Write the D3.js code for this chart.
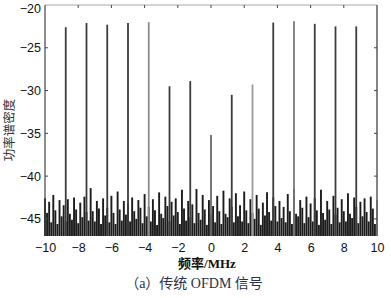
<!DOCTYPE html>
<html><head><meta charset="utf-8">
<script src="https://cdn.jsdelivr.net/npm/d3@7"></script>
<style>body{margin:0;background:#fff}svg{display:block}</style>
</head><body>
<svg id="c" width="391" height="298"></svg>
<script>
// ---- data ----
const spikeFreqs = [-8.75,-7.5,-6.25,-5,-3.75,-2.5,-1.25,0,1.25,2.5,3.75,5,6.25,7.5,8.75];
const spikePower = [-22.6,-22.1,-22.3,-22.1,-22.0,-29.5,-28.9,-35.2,-30.5,-29.3,-22.05,-21.9,-22.2,-22.5,-22.5];
const noisePower = [
-42.6,-44.3,-43.0,-45.4,-42.2,-44.0,-45.6,-42.8,-44.7,-43.4,-45.3,-42.7,-44.4,-45.1,-42.5,-43.9,
-45.5,-43.1,-44.8,-42.4,-44.2,-45.2,-41.4,-44.1,-45.3,-42.9,-43.8,-45.6,-42.6,-44.6,-43.7,-45.4,
-42.3,-44.3,-45.6,-41.8,-43.9,-45.2,-42.9,-44.5,-43.2,-45.3,-42.5,-44.1,-45.0,-42.8,-43.7,-45.5,
-42.1,-44.7,-43.6,-45.3,-42.7,-44.0,-45.7,-41.9,-44.4,-44.9,-42.4,-43.5,-45.3,-43.0,-44.6,-42.6,
-44.2,-45.6,-41.6,-43.8,-45.2,-42.9,-44.8,-43.3,-45.5,-41.5,-44.3,-45.1,-42.2,-43.9,-45.7,-42.8,
-44.5,-43.5,-45.4,-42.3,-44.1,-45.6,-41.7,-44.4,-44.8,-42.6,-43.6,-45.4,-42.0,-44.7,-43.4,-45.3,
-41.8,-44.0,-45.5,-42.7,-44.3,-45.0,-42.2,-43.8,-45.7,-43.1,-44.6,-41.9,-44.2,-45.2,-42.5,-43.5,
-45.3,-42.9,-44.9,-43.6,-45.4,-42.1,-44.1,-45.6,-41.5,-44.4,-44.7,-42.8,-43.7,-45.5,-42.4,-44.8,
-43.2,-45.3,-42.6,-44.0,-45.7,-41.6,-44.3,-45.1,-42.9,-43.9,-45.6,-42.3,-44.5,-43.7,-45.4,-42.7,
-44.1,-45.3,-42.0,-44.4,-44.9,-42.5,-43.6,-45.5,-43.0,-44.7,-42.6,-44.2,-45.3,-42.4,-43.8,-45.6,
-42.8];
const xTicks = [-10,-8,-6,-4,-2,0,2,4,6,8,10];
const yTicks = [-45,-40,-35,-30,-25,-20];
const xLabel = "频率/MHz";
const yLabel = "功率谱密度";
const caption = "（a）传统 OFDM 信号";

// ---- layout ----
const L = 45, R = 377, T = 5, B = 236;
const svg = d3.select("#c");
const x = d3.scaleLinear().domain([-10,10]).range([L,R]);
const y = d3.scaleLinear().domain([-47,-20]).range([B,T]);
const noiseFreq = noisePower.map((_,i)=>-10 + 20*i/(noisePower.length-1));

// noise floor
svg.append("g").selectAll("line").data(noisePower).join("line")
  .attr("x1",(d,i)=>x(noiseFreq[i])).attr("x2",(d,i)=>x(noiseFreq[i]))
  .attr("y1",B).attr("y2",d=>y(d))
  .attr("stroke","#1c1c1c").attr("stroke-width",1.9);

// spikes
const shade = i => ({4:"#8c8c8c",7:"#6a6a6a",9:"#9a9a9a",11:"#7a7a7a"})[i] || "#3c3c3c";
svg.append("g").selectAll("line").data(spikePower).join("line")
  .attr("x1",(d,i)=>x(spikeFreqs[i])).attr("x2",(d,i)=>x(spikeFreqs[i]))
  .attr("y1",B).attr("y2",d=>y(d))
  .attr("stroke",(d,i)=>shade(i)).attr("stroke-width",1.8);

// frame
svg.append("line").attr("x1",L).attr("x2",R).attr("y1",T).attr("y2",T).attr("stroke","#aaa").attr("stroke-width",1.2);
svg.append("line").attr("x1",R).attr("x2",R).attr("y1",T).attr("y2",B).attr("stroke","#777").attr("stroke-width",1.8);
svg.append("line").attr("x1",L).attr("x2",L).attr("y1",T).attr("y2",B).attr("stroke","#444").attr("stroke-width",1.2);

// axes
const fontTick = "Liberation Sans, Arial, sans-serif";
const fmt = d => d < 0 ? "\u2212" + Math.abs(d) : String(d);
const xb = svg.append("g").attr("transform",`translate(0,${B})`)
  .call(d3.axisBottom(x).tickValues(xTicks).tickFormat(fmt).tickSize(0).tickPadding(7));
xb.select(".domain").remove();
xb.selectAll("text").attr("font-family",fontTick).attr("font-size",12.5).attr("fill","#111");
const yl = svg.append("g").attr("transform",`translate(${L},0)`)
  .call(d3.axisLeft(y).tickValues(yTicks).tickFormat(fmt).tickSize(0).tickPadding(4));
yl.select(".domain").remove();
yl.selectAll("text").attr("font-family",fontTick).attr("font-size",12.5).attr("fill","#111")
  .attr("dy", d => d === -20 ? "0.62em" : "0.32em");

// inward ticks on top / left / right
svg.append("g").selectAll("line").data(xTicks.slice(1,-1)).join("line")
  .attr("x1",d=>x(d)).attr("x2",d=>x(d)).attr("y1",T).attr("y2",T+3).attr("stroke","#444");
svg.append("g").selectAll("line").data(yTicks.slice(0,-1)).join("line")
  .attr("x1",L).attr("x2",L+3).attr("y1",d=>y(d)).attr("y2",d=>y(d)).attr("stroke","#444");
svg.append("g").selectAll("line").data(yTicks.slice(0,-1)).join("line")
  .attr("x1",R-3).attr("x2",R).attr("y1",d=>y(d)).attr("y2",d=>y(d)).attr("stroke","#444");

// labels
svg.append("text").attr("x",207).attr("y",268).attr("text-anchor","middle")
  .attr("font-family","Liberation Serif, 'Noto Sans CJK SC', serif").attr("font-weight","bold")
  .attr("font-size",13).attr("fill","#111").text(xLabel);
svg.append("text").attr("transform","translate(14,130) rotate(-90)").attr("text-anchor","middle")
  .attr("font-family","'Noto Sans CJK SC', sans-serif").attr("font-size",12.5).attr("fill","#333").text(yLabel);
svg.append("text").attr("x",194).attr("y",288).attr("text-anchor","middle")
  .attr("font-family","Liberation Serif, 'Noto Sans CJK SC', serif")
  .attr("font-size",14).attr("fill","#27324d").text(caption);
</script>
</body></html>
